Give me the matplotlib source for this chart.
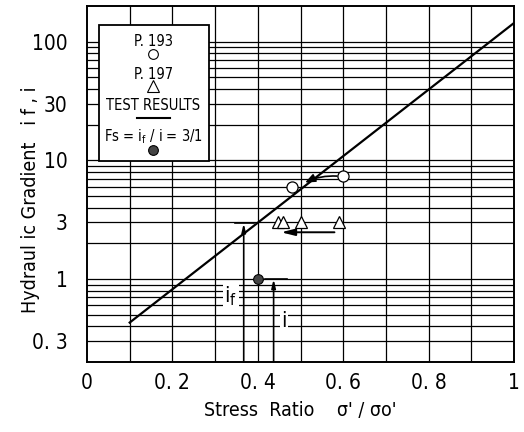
import matplotlib
matplotlib.use("Agg")
import matplotlib.pyplot as plt
from matplotlib.patches import Rectangle, FancyArrowPatch

plt.rcParams['font.family'] = ['DejaVu Sans']
plt.rcParams['font.stretch'] = 'condensed'

# --- data ---
line_x = [0.1, 1.0]
line_y = [0.43, 144]
p193_x = [0.481, 0.600]
p193_y = [6.0, 7.45]
p197_x = [0.448, 0.460, 0.501, 0.591]
p197_y = [3.0, 3.0, 3.0, 3.0]
fs_x = [0.401]
fs_y = [1.0]
if_x, if_y = 0.367, 2.95      # i_f arrow and its level
i_x, i_y = 0.437, 1.0          # i arrow and its level

xticks = [0, 0.2, 0.4, 0.6, 0.8, 1.0]
xticklabels = ["0", "0. 2", "0. 4", "0. 6", "0. 8", "1"]
yticks = [0.3, 1, 3, 10, 30, 100]
yticklabels = ["0. 3", "1", "3", "10", "30", "100"]

fig = plt.figure(figsize=(5.24, 4.32), dpi=100)
ax = fig.add_axes([0.166, 0.162, 0.815, 0.824])

ax.set_yscale("log")
ax.set_xlim(0, 1)
ax.set_ylim(0.2, 200)

# grid: every 0.1 in x, every log minor step in y
for gx in [i / 10 for i in range(1, 10)]:
    ax.axvline(gx, color="k", lw=0.9, zorder=1)
for dec in [0.1, 1, 10, 100]:
    for m in range(1, 10):
        v = dec * m
        if 0.2 < v < 200:
            ax.axhline(v, color="k", lw=0.9, zorder=1)

ax.plot(line_x, line_y, color="k", lw=1.6, zorder=3)

ax.plot(p193_x, p193_y, "o", ms=8, mfc="white", mec="k", mew=0.9, zorder=4)
ax.plot(p197_x, p197_y, "^", ms=9, mfc="white", mec="k", mew=0.9, zorder=4)
ax.plot(fs_x, fs_y, "o", ms=7, mfc="#444444", mec="k", mew=0.8, zorder=4)

# curved arrow from the right circle back onto the line
ax.add_patch(FancyArrowPatch((0.592, 7.35), (0.505, 6.35),
                             connectionstyle="arc3,rad=0.15",
                             arrowstyle="-|>,head_length=6,head_width=2.5",
                             color="k", lw=1.2, zorder=4))
# horizontal arrow under the triangles
ax.annotate("", xy=(0.448, 2.48), xytext=(0.586, 2.48),
            arrowprops=dict(arrowstyle="-|>,head_length=0.8,head_width=0.2",
                            color="k", lw=1.4), zorder=4)

# i_f and i markers
ax.plot([0.347, 0.390], [if_y, if_y], color="k", lw=1.2, zorder=3)
ax.annotate("", xy=(if_x, if_y), xytext=(if_x, 0.2),
            arrowprops=dict(arrowstyle="-|>,head_length=0.5,head_width=0.12",
                            color="k", lw=1.2, shrinkA=0, shrinkB=0), zorder=3)
ax.plot([0.417, 0.468], [i_y, i_y], color="k", lw=1.2, zorder=3)
ax.annotate("", xy=(i_x, i_y), xytext=(i_x, 0.2),
            arrowprops=dict(arrowstyle="-|>,head_length=0.5,head_width=0.12",
                            color="k", lw=1.2, shrinkA=0, shrinkB=0), zorder=3)

ax.text(0.337, 0.72, "i$_\\mathregular{f}$", fontsize=16, ha="center", va="center",
        zorder=5, bbox=dict(fc="white", ec="none", pad=1))
ax.text(0.462, 0.44, "i", fontsize=16, ha="center", va="center",
        zorder=5, bbox=dict(fc="white", ec="none", pad=1))

# legend box
ax.add_patch(Rectangle((0.029, 0.566), 0.256, 0.382, transform=ax.transAxes,
                       fc="white", ec="k", lw=1.3, zorder=6))
cx = 0.155
fs_leg = 10.5
ax.text(cx, 0.900, "P. 193", transform=ax.transAxes, ha="center", va="center",
        fontsize=fs_leg, zorder=7)
ax.plot([cx], [0.864], "o", transform=ax.transAxes, ms=7, mfc="white",
        mec="k", mew=0.8, zorder=7)
ax.text(cx, 0.807, "P. 197", transform=ax.transAxes, ha="center", va="center",
        fontsize=fs_leg, zorder=7)
ax.plot([cx], [0.776], "^", transform=ax.transAxes, ms=9, mfc="white",
        mec="k", mew=0.8, zorder=7)
ax.text(cx, 0.722, "TEST RESULTS", transform=ax.transAxes, ha="center",
        va="center", fontsize=fs_leg, zorder=7)
ax.plot([0.116, 0.194], [0.686, 0.686], transform=ax.transAxes, color="k",
        lw=1.5, zorder=7)
ax.text(cx, 0.634, "Fs = i$_\\mathregular{f}$ / i = 3/1", transform=ax.transAxes,
        ha="center", va="center", fontsize=fs_leg, zorder=7)
ax.plot([cx], [0.595], "o", transform=ax.transAxes, ms=7, mfc="#444444",
        mec="k", mew=0.8, zorder=7)

ax.set_xticks(xticks)
ax.set_xticklabels(xticklabels, fontsize=15)
ax.set_yticks(yticks)
ax.set_yticklabels(yticklabels, fontsize=15)
ax.minorticks_off()
ax.tick_params(axis="x", length=0, pad=8)
ax.tick_params(axis="y", length=0, pad=14)

ax.set_xlabel("Stress  Ratio    σ' / σo'", fontsize=14)
ax.set_ylabel("Hydraul ic Gradient   i f , i", fontsize=14)
ax.xaxis.set_label_coords(0.5, -0.135)
ax.yaxis.set_label_coords(-0.133, 0.455)
ax.xaxis.label.set_va("center")
ax.yaxis.label.set_va("center")

for s in ax.spines.values():
    s.set_linewidth(1.4)
    s.set_zorder(8)

fig.savefig("out.png", dpi=100)
